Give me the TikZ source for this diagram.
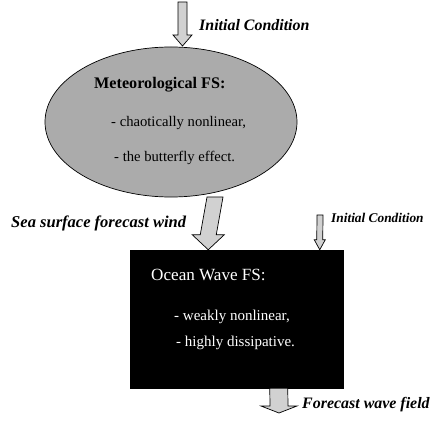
\documentclass[tikz,border=0pt]{standalone}
\usepackage{fontspec}
\setmainfont{Liberation Serif}
\usepackage{tikz}
\usetikzlibrary{calc,shapes.geometric}

\begin{document}
\begin{tikzpicture}[x=0.03cm,y=-0.03cm,
   texto/.style={inner sep=0pt,anchor=west},
   etiqueta/.style={texto,font=\fontsize{13.6}{16}\selectfont\bfseries\itshape},
   flecha/.style={draw=black,fill=black!18,line width=.6pt,line join=miter}]
   \useasboundingbox (0,0) rectangle (438,423);
   %elipse
   \node[ellipse,draw=black,fill=black!33,line width=.6pt,
         minimum width=7.56cm,minimum height=4.5cm] (meteo) at (171,122) {};
   \node[texto,font=\fontsize{13.8}{16}\selectfont\bfseries] (meteot) at (94,85) {Meteorological FS:};
   \node[texto,font=\fontsize{12.5}{15}\selectfont] (meteo1) at (111,123) {- chaotically nonlinear,};
   \node[texto,font=\fontsize{12.5}{15}\selectfont] (meteo2) at (114,158) {- the butterfly effect.};
   %caja
   \node[draw=black,fill=black,minimum width=6.39cm,minimum height=4.14cm,inner sep=0pt] (ola) at (236.5,319) {};
   \node[texto,text=white,font=\fontsize{14.6}{17}\selectfont] (olat) at (151,275) {Ocean Wave FS:};
   \node[texto,text=white,font=\fontsize{12.8}{15}\selectfont] (ola1) at (174,317) {- weakly nonlinear,};
   \node[texto,text=white,font=\fontsize{12.8}{15}\selectfont] (ola2) at (176,343) {- highly dissipative.};
   %puntos de las flechas
   \coordinate (ci1) at (182.5,2);    \coordinate (ci1f) at (182.5,46);
   \coordinate (vi) at (215,197);     \coordinate (vif) at ($(ola.north west)+(78.5,0)$);
   \coordinate (ci2) at (320,215);    \coordinate (ci2f) at ($(ola.north west)+(190,0)$);
   \coordinate (pr) at ($(ola.south west)+(149,0)$); \coordinate (prf) at (279,413);
   %flechas
   \foreach \a/\b/\s/\h/\l in {ci1/ci1f/4.5/9.5/11, vi/vif/8/16/15, ci2/ci2f/3/5.5/10, pr/prf/9/18/7}
      \draw[flecha] ($(\a)+(-\s,0)$) -- ($(\a)+(\s,0)$) -- ($(\b)+(\s,-\l)$) -- ($(\b)+(\h,-\l)$)
         -- (\b) -- ($(\b)+(-\h,-\l)$) -- ($(\b)+(-\s,-\l)$) -- cycle;
   %etiquetas
   \node[etiqueta] (ic1) at (199,25) {Initial Condition};
   \node[etiqueta,font=\fontsize{14.1}{16}\selectfont\bfseries\itshape] (vien) at (11,223) {Sea surface forecast wind};
   \node[etiqueta,font=\fontsize{11.4}{13}\selectfont\bfseries\itshape] (ic2) at (331,218) {Initial Condition};
   \node[etiqueta] (pron) at (302,405) {Forecast wave field};
\end{tikzpicture}
\end{document}
